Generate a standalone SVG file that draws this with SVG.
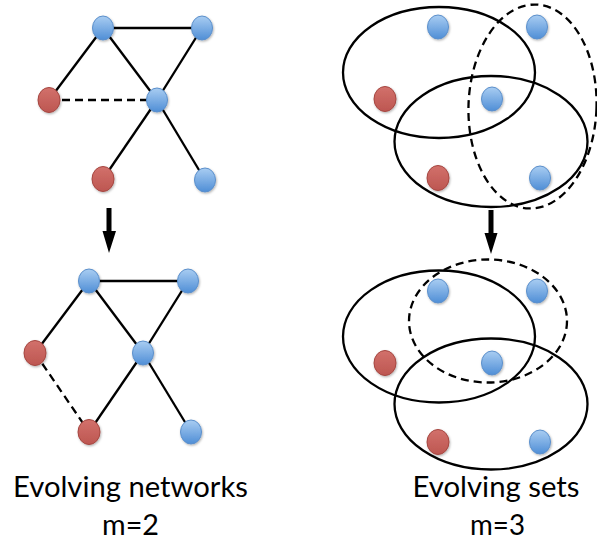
<svg xmlns="http://www.w3.org/2000/svg" width="597" height="542" viewBox="0 0 597 542">
  <defs>
    <linearGradient id="gBlue" x1="0" y1="0" x2="0" y2="1">
      <stop offset="0" stop-color="#a9cdf2"/>
      <stop offset="1" stop-color="#4f8ed6"/>
    </linearGradient>
    <linearGradient id="gRed" x1="0" y1="0" x2="0" y2="1">
      <stop offset="0" stop-color="#d2716b"/>
      <stop offset="1" stop-color="#bd5651"/>
    </linearGradient>
    <filter id="shadow" x="-50%" y="-50%" width="200%" height="200%">
      <feDropShadow dx="0.8" dy="1.2" stdDeviation="0.9" flood-color="#000" flood-opacity="0.3"/>
    </filter>
  </defs>
  <style>
    .edge { stroke: #000; stroke-width: 2.3; fill: none; }
    .dash { stroke-dasharray: 8 5; }
    .set { stroke: #000; stroke-width: 2.3; fill: none; }
    .blue { fill: url(#gBlue); stroke: #5b8fcb; stroke-width: 1; filter: url(#shadow); }
    .red { fill: url(#gRed); stroke: #a54640; stroke-width: 1; filter: url(#shadow); }
    .arrow { fill: #000; }
    .label { font-family: Lato, "Open Sans", sans-serif; font-size: 28px; fill: #000; text-anchor: middle; }
  </style>

  <!-- network edges, before and after -->
  <g id="connectors">
    <line class="edge" x1="103" y1="28" x2="202" y2="28"/>
    <line class="edge" x1="103" y1="28" x2="49" y2="100"/>
    <line class="edge" x1="103" y1="28" x2="157" y2="100"/>
    <line class="edge" x1="202" y1="28" x2="157" y2="100"/>
    <line class="edge dash" x1="49" y1="100" x2="157" y2="100"/>
    <line class="edge" x1="157" y1="100" x2="103" y2="179"/>
    <line class="edge" x1="157" y1="100" x2="205" y2="180"/>

    <line class="edge" x1="89" y1="281" x2="188" y2="281"/>
    <line class="edge" x1="89" y1="281" x2="35" y2="353"/>
    <line class="edge" x1="89" y1="281" x2="143" y2="353"/>
    <line class="edge" x1="188" y1="281" x2="143" y2="353"/>
    <line class="edge dash" x1="35" y1="353" x2="89" y2="432"/>
    <line class="edge" x1="143" y1="353" x2="89" y2="432"/>
    <line class="edge" x1="143" y1="353" x2="191" y2="432"/>

    <!-- evolution arrows -->
    <path class="arrow" d="M106.5,208 H111.5 V231 H116 L109,253 L102.5,231 H106.5 Z"/>
    <path class="arrow" d="M488.5,210 H493.5 V233 H497.5 L491,254 L484.5,233 H488.5 Z"/>
  </g>

  <!-- set outlines -->
  <g id="sets-top">
    <ellipse class="set" cx="439" cy="72.5" rx="96" ry="65.5"/>
    <ellipse class="set" cx="491" cy="141.5" rx="96.5" ry="65.5"/>
    <ellipse class="set dash" cx="532.5" cy="106.5" rx="64" ry="102" transform="rotate(2 532.5 106.5)"/>
  </g>
  <g id="sets-bottom">
    <ellipse class="set" cx="439" cy="336.5" rx="96" ry="66"/>
    <ellipse class="set" cx="491" cy="404" rx="96.5" ry="65.5"/>
    <ellipse class="set dash" cx="488" cy="321" rx="79" ry="61.5"/>
  </g>

  <!-- network nodes, top -->
  <g id="n1"><ellipse class="blue" cx="103" cy="28" rx="10.5" ry="12"/></g>
  <g id="n2"><ellipse class="blue" cx="202" cy="28" rx="10.5" ry="12"/></g>
  <g id="n3"><ellipse class="red" cx="49" cy="100" rx="11" ry="12.5"/></g>
  <g id="n4"><ellipse class="blue" cx="157" cy="100" rx="10.5" ry="12"/></g>
  <g id="n5"><ellipse class="red" cx="103" cy="179" rx="11" ry="12.5"/></g>
  <g id="n6"><ellipse class="blue" cx="205" cy="180" rx="10.5" ry="12"/></g>

  <!-- network nodes, bottom -->
  <g id="m1"><ellipse class="blue" cx="89" cy="281" rx="10.5" ry="12"/></g>
  <g id="m2"><ellipse class="blue" cx="188" cy="281" rx="10.5" ry="12"/></g>
  <g id="m3"><ellipse class="red" cx="35" cy="353" rx="11" ry="12.5"/></g>
  <g id="m4"><ellipse class="blue" cx="143" cy="353" rx="10.5" ry="12"/></g>
  <g id="m5"><ellipse class="red" cx="89" cy="432" rx="11" ry="12.5"/></g>
  <g id="m6"><ellipse class="blue" cx="191" cy="432" rx="10.5" ry="12"/></g>

  <!-- set elements, top -->
  <g id="s1"><ellipse class="blue" cx="438" cy="27" rx="10.5" ry="12"/></g>
  <g id="s2"><ellipse class="blue" cx="537" cy="27" rx="10.5" ry="12"/></g>
  <g id="s3"><ellipse class="red" cx="385" cy="99" rx="11" ry="12.5"/></g>
  <g id="s4"><ellipse class="blue" cx="492" cy="99" rx="10.5" ry="12"/></g>
  <g id="s5"><ellipse class="red" cx="438" cy="178" rx="11" ry="12.5"/></g>
  <g id="s6"><ellipse class="blue" cx="540" cy="178" rx="10.5" ry="12"/></g>

  <!-- set elements, bottom -->
  <g id="t1"><ellipse class="blue" cx="438" cy="291" rx="10.5" ry="12"/></g>
  <g id="t2"><ellipse class="blue" cx="537" cy="291" rx="10.5" ry="12"/></g>
  <g id="t3"><ellipse class="red" cx="385" cy="363" rx="11" ry="12.5"/></g>
  <g id="t4"><ellipse class="blue" cx="492" cy="363" rx="10.5" ry="12"/></g>
  <g id="t5"><ellipse class="red" cx="438" cy="442" rx="11" ry="12.5"/></g>
  <g id="t6"><ellipse class="blue" cx="540" cy="442" rx="10.5" ry="12"/></g>

  <!-- captions -->
  <g id="captions">
    <text class="label" x="130.5" y="497" textLength="235" lengthAdjust="spacingAndGlyphs">Evolving networks</text>
    <text class="label" x="130.5" y="535" textLength="57" lengthAdjust="spacingAndGlyphs">m=2</text>
    <text class="label" x="496" y="497" textLength="167" lengthAdjust="spacingAndGlyphs">Evolving sets</text>
    <text class="label" x="497.5" y="535" textLength="55" lengthAdjust="spacingAndGlyphs">m=3</text>
  </g>
</svg>
